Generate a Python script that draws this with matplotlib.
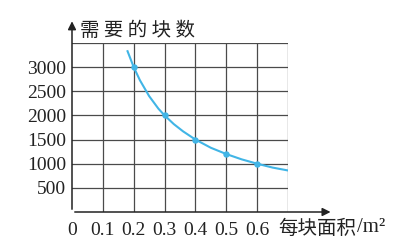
import matplotlib
matplotlib.use("Agg")
import matplotlib.pyplot as plt

# points
area = [0.2, 0.3, 0.4, 0.5, 0.6]
count = [3000, 2000, 1500, 1200, 1000]

# curve
curve_x = [0.18, 0.2, 0.22, 0.25, 0.28, 0.3, 0.33, 0.36, 0.4, 0.45, 0.5, 0.55, 0.6, 0.65, 0.7]
curve_y = [3330, 3000, 2730, 2400, 2140, 2000, 1820, 1670, 1500, 1330, 1200, 1090, 1000, 920, 860]

x_ticks = [0, 0.1, 0.2, 0.3, 0.4, 0.5, 0.6]
x_ticklabels = ["0", "0.1", "0.2", "0.3", "0.4", "0.5", "0.6"]
y_ticks = [500, 1000, 1500, 2000, 2500, 3000]

blue = "#41b5e6"
cjk = ["Noto Sans CJK SC", "DejaVu Sans"]

fig = plt.figure(figsize=(4.15, 2.52), dpi=100)
ax = fig.add_axes([72/415, 40/252, 216/415, 169/252])
ax.set_xlim(0, 0.7)
ax.set_ylim(0, 3500)

# grid
for gx in [0.1, 0.2, 0.3, 0.4, 0.5, 0.6, 0.7]:
    ax.axvline(gx, color="#4a4a4a", lw=0.9, zorder=1)
for gy in [500, 1000, 1500, 2000, 2500, 3000, 3500]:
    ax.axhline(gy, color="#4a4a4a", lw=0.9, zorder=1)

ax.plot(curve_x, curve_y, color=blue, lw=1.5, zorder=3)
ax.plot(area, count, "o", color=blue, ms=3.6, zorder=4)

for s in ax.spines.values():
    s.set_visible(False)

ax.set_xticks(x_ticks)
ax.set_xticklabels(x_ticklabels)
ax.set_yticks(y_ticks)
ax.tick_params(length=0, labelsize=14)
ax.tick_params(axis="x", pad=7)
ax.tick_params(axis="y", pad=4)
for lab in ax.get_xticklabels() + ax.get_yticklabels():
    lab.set_fontfamily("Liberation Serif")
    lab.set_color("#222222")

# axes with arrows
ax.annotate("", xy=(0, 1.145), xytext=(0, 0), xycoords="axes fraction",
            arrowprops=dict(arrowstyle="-|>", color="#222222", lw=1.1, mutation_scale=12),
            annotation_clip=False)
ax.annotate("", xy=(1.21, 0), xytext=(0, 0), xycoords="axes fraction",
            arrowprops=dict(arrowstyle="-|>", color="#222222", lw=1.1, mutation_scale=12),
            annotation_clip=False)

fig.text(80/415, 1 - 30/252, "需 要 的 块 数", family=cjk, fontsize=14, fontweight="medium",
         color="#222222", va="center", ha="left")
fig.text(278/415, 1 - 228/252, "每块面积", family=cjk, fontsize=14,
         color="#222222", va="center", ha="left")
fig.text(357/415, 1 - 228/252, "/m²", family="Liberation Serif", fontsize=15,
         color="#222222", va="center", ha="left")

fig.savefig("out.png", dpi=100)
